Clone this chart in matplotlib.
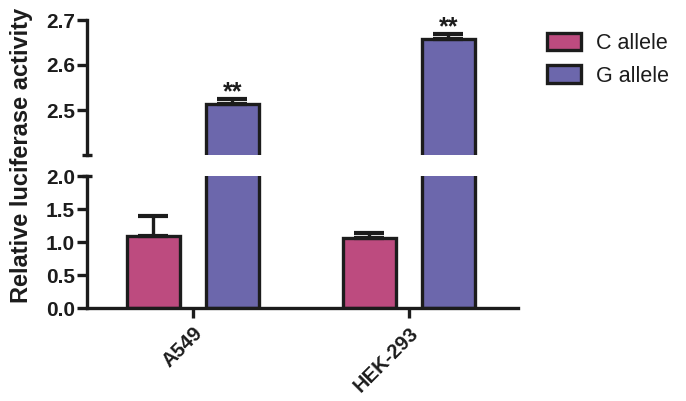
import matplotlib
matplotlib.use("Agg")
import matplotlib.pyplot as plt
import numpy as np

plt.rcParams['font.family'] = ['Liberation Sans', 'DejaVu Sans']

cells = ["A549", "HEK-293"]
c_allele = [1.10, 1.07]
c_err = [0.30, 0.07]
g_allele = [2.513, 2.658]
g_err = [0.012, 0.011]
series_names = ["C allele", "G allele"]
colors = ["#BD4B7F", "#6C67AC"]

upper_ticks = [2.5, 2.6, 2.7]
lower_ticks = [0.0, 0.5, 1.0, 1.5, 2.0]

W, H = 686, 401
fig = plt.figure(figsize=(W / 100, H / 100), dpi=100)

def fx(px):
    return px / W

def fy(px):
    return 1 - px / H

left, right = 87, 518
ax_up = fig.add_axes([fx(left), fy(155), fx(right) - fx(left), fy(20) - fy(155)])
ax_lo = fig.add_axes([fx(left), fy(308.3), fx(right) - fx(left), fy(176) - fy(308.3)])

ink = "#1c1c1c"
x = np.arange(len(cells))
bw = 0.245
off = 0.183
lw = 2.4
tick_fs = 15
for ax in (ax_up, ax_lo):
    ax.bar(x - off, c_allele, bw, color=colors[0], edgecolor=ink, linewidth=lw,
           yerr=[np.zeros(len(c_err)), c_err], capsize=11,
           error_kw=dict(elinewidth=lw, capthick=3.0, ecolor=ink), label=series_names[0], zorder=2)
    ax.bar(x + off, g_allele, bw, color=colors[1], edgecolor=ink, linewidth=lw,
           yerr=[np.zeros(len(g_err)), g_err], capsize=11,
           error_kw=dict(elinewidth=lw, capthick=3.0, ecolor=ink), label=series_names[1], zorder=2)
    ax.set_xlim(-0.49, 1.505)
    for s in ("top", "right"):
        ax.spines[s].set_visible(False)
    ax.spines["left"].set_linewidth(lw)
    ax.spines["left"].set_color(ink)
    ax.tick_params(axis="y", direction="out", length=7, width=lw, color=ink,
                   labelsize=tick_fs, pad=1.5, labelcolor=ink)

ax_up.set_ylim(2.4, 2.7)
ax_up.set_yticks(upper_ticks)
ax_up.set_yticklabels([f"{v:.1f}" for v in upper_ticks], fontweight="bold")
ax_up.spines["bottom"].set_visible(False)
ax_up.set_xticks([])

ax_lo.set_ylim(0.0, 2.0)
ax_lo.set_yticks(lower_ticks)
ax_lo.set_yticklabels([f"{v:.1f}" for v in lower_ticks], fontweight="bold")
ax_lo.spines["bottom"].set_linewidth(lw)
ax_lo.spines["bottom"].set_color(ink)
ax_lo.set_xticks(x)
ax_lo.set_xticklabels(cells, rotation=45, ha="right", rotation_mode="anchor",
                      fontweight="bold", fontsize=14.5, color=ink)
ax_lo.tick_params(axis="x", direction="out", length=7, width=lw, color=ink, pad=4)

# break marks
ax_up.plot([-0.012, 0.012], [0, 0], transform=ax_up.transAxes, color=ink,
           lw=lw, clip_on=False, solid_capstyle="butt")
ax_lo.plot([-0.012, 0.012], [1, 1], transform=ax_lo.transAxes, color=ink,
           lw=lw, clip_on=False, solid_capstyle="butt")

# significance
for i in range(len(cells)):
    ax_up.text(x[i] + off, g_allele[i] + g_err[i] - 0.012, "**", ha="center", va="bottom",
               fontsize=18, fontweight="bold", color=ink)

fig.text(fx(22), fy(155), "Relative luciferase activity", rotation=90, ha="center",
         va="center", fontsize=17, fontweight="bold", color=ink)

handles, labels = ax_lo.get_legend_handles_labels()
leg = fig.legend(handles, labels, loc="upper left", bbox_to_anchor=(fx(538), fy(24)),
                 frameon=False, fontsize=15.5, handlelength=1.6, handleheight=0.85,
                 handletextpad=0.7, labelspacing=0.55, borderaxespad=0)
for t in leg.get_texts():
    t.set_color(ink)

fig.savefig("out.png", dpi=100)
